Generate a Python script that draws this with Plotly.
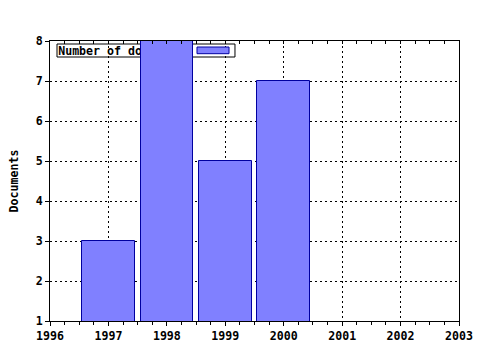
import plotly.graph_objects as go

years = [1997, 1998, 1999, 2000]
documents = [3, 8, 5, 7]
series_name = "Number of documents"
x_ticks = [1996, 1997, 1998, 1999, 2000, 2001, 2002, 2003]
y_ticks = [1, 2, 3, 4, 5, 6, 7, 8]

FONT = dict(family="DejaVu Sans Mono", size=11.6, color="black", weight="bold")
FILL = "#8080ff"
EDGE = "#0000a0"

fig = go.Figure()

# legend text drawn under the bars (main subplot)
fig.add_trace(go.Scatter(
    x=[1996.14], y=[7.72], mode="text", text=[series_name],
    textposition="middle right", textfont=FONT, showlegend=False,
    hoverinfo="skip", xaxis="x", yaxis="y"))

# bars on overlay subplot so they cover the legend
fig.add_trace(go.Bar(
    x=years, y=documents, width=0.9, base=0,
    marker=dict(color=FILL, line=dict(color=EDGE, width=1)),
    showlegend=False, hoverinfo="skip", xaxis="x2", yaxis="y2"))

# legend frame and swatch
fig.add_shape(type="rect", xref="x", yref="y", x0=1996.12, x1=1999.166,
              y0=7.6, y1=7.925, layer="below",
              line=dict(color="black", width=1), fillcolor="white")
fig.add_shape(type="rect", xref="x", yref="y", x0=1998.516, x1=1999.064,
              y0=7.6825, y1=7.85, layer="above",
              line=dict(color=EDGE, width=1), fillcolor=FILL)

grid = dict(showgrid=True, gridcolor="black", gridwidth=1, griddash="2px,3px")

fig.update_layout(
    width=480, height=350,
    margin=dict(l=50, r=21, t=41, b=29, pad=0),
    paper_bgcolor="white", plot_bgcolor="white",
    font=FONT, hovermode=False,
    xaxis=dict(range=[1996, 2003], tickvals=x_ticks, ticktext=[str(v) for v in x_ticks],
               ticks="outside", ticklen=4, tickcolor="black", showline=True,
               linecolor="black", linewidth=1, mirror=False, zeroline=False,
               automargin=False,
               minor=dict(dtick=0.25, ticks="outside", ticklen=3, tickcolor="black", showgrid=False),
               tickfont=FONT, **grid),
    yaxis=dict(range=[1, 8], tickvals=y_ticks, ticks="outside", ticklen=4,
               tickcolor="black", showline=True, linecolor="black", linewidth=1,
               mirror=True, zeroline=False, tickfont=FONT, automargin=False,
               title=dict(text="Documents", font=FONT, standoff=14), **grid),
    xaxis2=dict(range=[1996, 2003], overlaying="x", side="top", showline=True,
                linecolor="black", linewidth=1, tickvals=x_ticks, ticks="inside",
                ticklen=3, tickcolor="black", showticklabels=False, showgrid=False,
                zeroline=False, automargin=False,
                minor=dict(dtick=0.25, ticks="inside", ticklen=3, tickcolor="black", showgrid=False)),
    yaxis2=dict(range=[1, 8], overlaying="y", visible=False, showgrid=False, zeroline=False),
    bargap=0,
)

fig.write_html("out.html")
